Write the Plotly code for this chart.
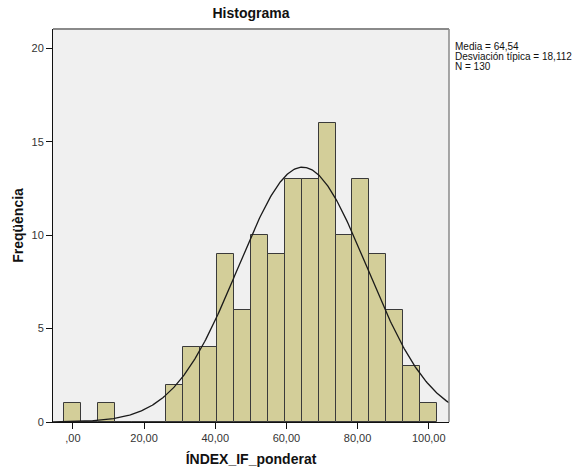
import numpy as np
import plotly.graph_objects as go

# Histogram data (SPSS-style)
bin_width = 100 / 21
bin_centers = [i * bin_width for i in range(22)]
counts = [1, 0, 1, 0, 0, 0, 2, 4, 4, 9, 6, 10, 9, 13, 13, 16, 10, 13, 9, 6, 3, 1]
mean_val = 64.54
sd_val = 18.112
n_val = 130

x_range = [-5.6, 105.7]
y_range = [0, 21.03]
x_tickvals = [0, 20, 40, 60, 80, 100]
x_ticktext = [",00", "20,00", "40,00", "60,00", "80,00", "100,00"]
y_tickvals = [0, 5, 10, 15, 20]

xc = np.linspace(x_range[0], x_range[1], 400)
yc = n_val * bin_width / (sd_val * np.sqrt(2 * np.pi)) * np.exp(-0.5 * ((xc - mean_val) / sd_val) ** 2)

fig = go.Figure()
fig.add_trace(go.Bar(
    x=bin_centers, y=counts, width=bin_width,
    marker=dict(color="#D3CE99", line=dict(color="#3a3a3a", width=1)),
    hoverinfo="skip", showlegend=False,
))
fig.add_trace(go.Scatter(
    x=xc, y=yc, mode="lines",
    line=dict(color="#1a1a1a", width=1.3),
    hoverinfo="skip", showlegend=False,
))

font_family = "Liberation Sans, Arial, sans-serif"

fig.update_layout(
    width=577, height=469,
    margin=dict(l=53, r=128, t=29, b=47, autoexpand=False),
    paper_bgcolor="white",
    plot_bgcolor="#F0F0F0",
    font=dict(family=font_family, color="#222"),
    title=dict(text="<b>Histograma</b>", x=(53 + 449) / 2 / 577, xanchor="center",
               y=1 - 13 / 469, yanchor="middle", yref="container",
               font=dict(size=14, color="#111")),
    bargap=0,
    xaxis=dict(
        range=x_range, tickvals=x_tickvals, ticktext=x_ticktext,
        ticks="outside", ticklen=6, tickcolor="#111", tickwidth=1,
        showgrid=False, zeroline=False, automargin=False,
        showline=True, linecolor="#111", linewidth=1,
        tickfont=dict(size=11, color="#333"),
        title=dict(text="<b>ÍNDEX_IF_ponderat</b>", font=dict(size=14, color="#111"), standoff=10),
    ),
    yaxis=dict(
        range=y_range, tickvals=y_tickvals,
        ticks="outside", ticklen=6, tickcolor="#111", tickwidth=1,
        showgrid=False, zeroline=False, automargin=False,
        showline=True, linecolor="#111", linewidth=1,
        tickfont=dict(size=11, color="#333"),
        title=dict(text="<b>Freqüència</b>", font=dict(size=14, color="#111"), standoff=4),
    ),
    shapes=[
        dict(type="line", xref="paper", yref="paper", x0=0, x1=1, y0=1, y1=1,
             line=dict(color="#8a8a8a", width=2)),
        dict(type="line", xref="paper", yref="paper", x0=1, x1=1, y0=0, y1=1,
             line=dict(color="#8a8a8a", width=1.5)),
    ],
)

stats = ["Media = 64,54", "Desviación típica = 18,112", f"N = {n_val}"]
for i, t in enumerate(stats):
    ypix = 46 + 10 * i
    fig.add_annotation(
        text=t, xref="paper", yref="paper",
        x=(453 - 53) / 396, y=(421.7 - ypix) / 392.7,
        xanchor="left", yanchor="middle", showarrow=False,
        font=dict(size=10, color="#111", family=font_family),
    )

fig.write_html("out.html")
